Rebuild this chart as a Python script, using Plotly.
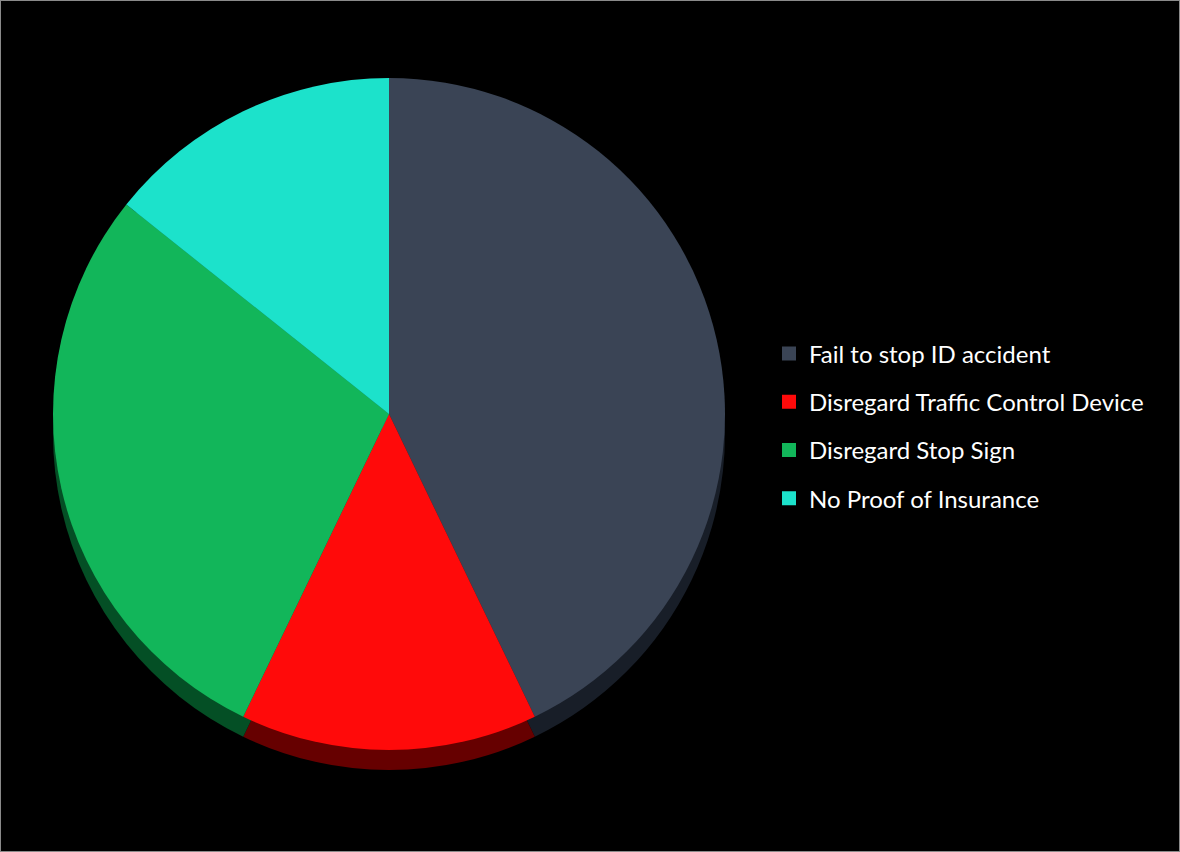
import plotly.graph_objects as go

categories = ["Fail to stop ID accident", "Disregard Traffic Control Device",
              "Disregard Stop Sign", "No Proof of Insurance"]
values = [3, 1, 2, 1]
top_colors = ["#3A4455", "#FF0A0A", "#12B65A", "#1CE2CB"]
side_colors = ["#181E28", "#660000", "#044F25", "#0B6B60"]

W, H = 1180, 852
cx, cy, r, depth = 389, 414, 336, 20

def dom(center_y):
    x0 = (cx - r) / W
    x1 = (cx + r) / W
    yb = H - center_y
    return dict(x=[x0, x1], y=[(yb - r) / H, (yb + r) / H])

fig = go.Figure()

# side / depth layer
fig.add_trace(go.Pie(
    labels=categories, values=values, sort=False, direction="clockwise",
    rotation=0, textinfo="none", hoverinfo="skip", showlegend=False,
    marker=dict(colors=side_colors, line=dict(width=0)),
    domain=dom(cy + depth),
))
# top surface
fig.add_trace(go.Pie(
    labels=categories, values=values, sort=False, direction="clockwise",
    rotation=0, textinfo="none", showlegend=False,
    marker=dict(colors=top_colors, line=dict(width=0)),
    domain=dom(cy),
))

# legend entries
for i, (name, col) in enumerate(zip(categories, top_colors)):
    fig.add_trace(go.Scatter(
        x=[None], y=[None], mode="markers", name=name,
        legendgroup=f"g{i}",
        marker=dict(symbol="square", size=14, color=col),
    ))

fig.update_layout(
    width=W, height=H,
    paper_bgcolor="black", plot_bgcolor="black",
    margin=dict(l=0, r=0, t=0, b=0),
    xaxis=dict(visible=False), yaxis=dict(visible=False),
    showlegend=True,
    legend=dict(
        x=769 / W, y=0.5, xanchor="left", yanchor="middle",
        font=dict(family="Lato", size=24, color="white"),
        tracegroupgap=14, bgcolor="rgba(0,0,0,0)",
        itemclick=False, itemdoubleclick=False,
    ),
    shapes=[dict(type="rect", xref="paper", yref="paper", x0=0, y0=0, x1=1, y1=1,
                 line=dict(color="#8A8A8A", width=2), layer="above")],
)

fig.write_html("out.html", config={"displayModeBar": False},
               post_script="document.body.style.margin='0';")
